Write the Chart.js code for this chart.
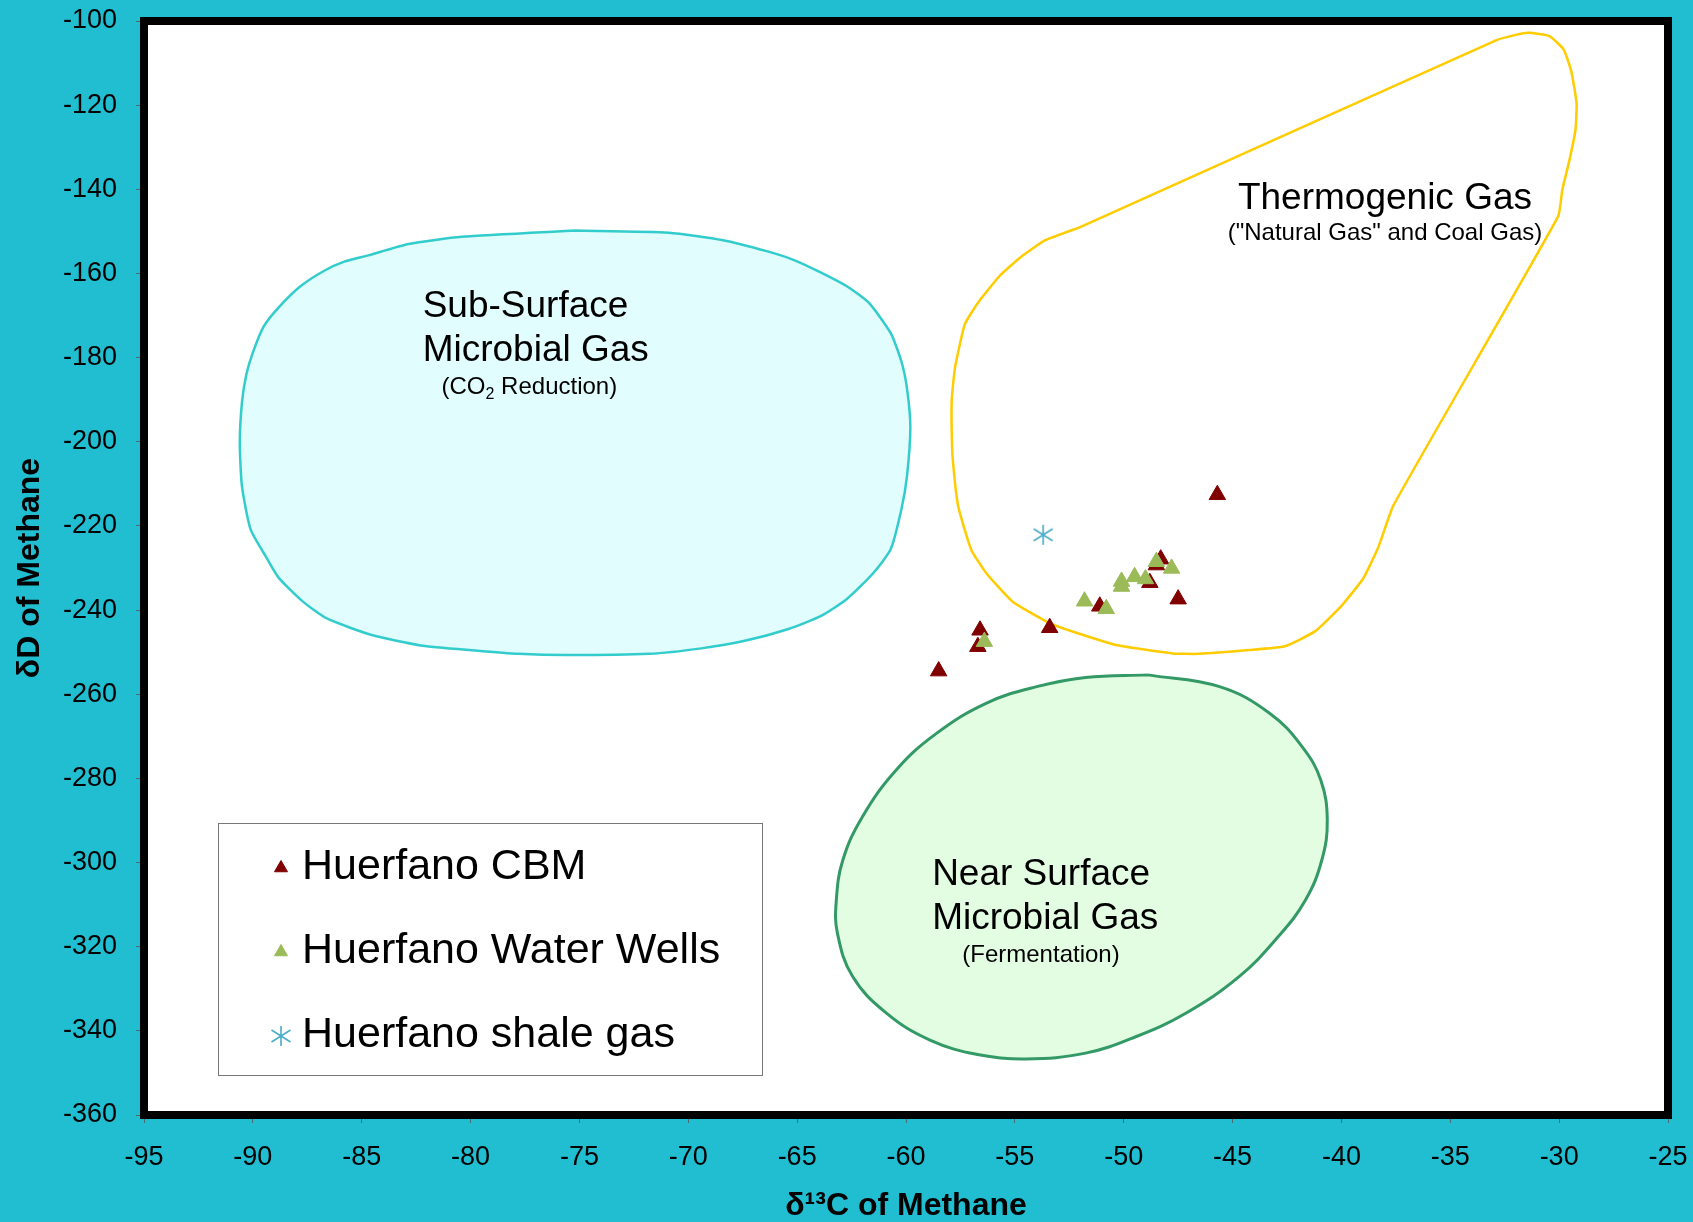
<!DOCTYPE html>
<html>
<head>
<meta charset="utf-8">
<script src="https://cdn.jsdelivr.net/npm/chart.js@4.4.1/dist/chart.umd.min.js"></script>
<style>
html, body { margin: 0; padding: 0; background: #21bdd0; }
canvas { display: block; }
</style>
</head>
<body>
<canvas id="gas-chart" width="1693" height="1222"></canvas>
<script>
// axis ticks
const xTicks = [-95, -90, -85, -80, -75, -70, -65, -60, -55, -50, -45, -40, -35, -30, -25];
const yTicks = [-360, -340, -320, -300, -280, -260, -240, -220, -200, -180, -160, -140, -120, -100];

// samples
const cbmX = [-45.7, -48.3, -48.5, -48.8, -47.5, -51.1, -53.4, -56.6, -56.7, -58.5];
const cbmY = [-212.6, -227.9, -229.3, -233.5, -237.4, -239.1, -244.2, -244.8, -248.7, -254.5];
const waterX = [-56.4, -51.8, -50.8, -50.1, -50.1, -49.5, -49.0, -48.5, -47.8];
const waterY = [-247.5, -237.9, -239.7, -233.2, -234.4, -232.1, -232.6, -228.5, -230.1];
const shaleX = [-53.7];
const shaleY = [-222.1];

// region outlines
const subSurfaceX = [-75.2, -80.4, -82.85, -84.7, -85.8, -86.7, -87.8, -88.8, -89.5, -90.0, -90.3, -90.5, -90.6, -90.5, -90.1, -89.4, -88.8, -87.7, -86.6, -84.5, -82.3, -79.8, -77.8, -75.6, -71.8, -69.4, -67.4, -65.4, -63.9, -62.7, -61.5, -60.7, -60.2, -59.95, -59.8, -59.95, -60.2, -60.7, -61.7, -62.7, -63.9, -65.2, -66.4, -68.4, -70.9, -75.2];
const subSurfaceY = [-149.8, -151.3, -153, -155.7, -157.2, -159.3, -163, -168, -172.6, -178.8, -184, -190.6, -200.4, -210.6, -220.9, -227.3, -232.4, -238, -242, -246, -248.4, -249.6, -250.4, -250.7, -250.4, -249.1, -247.3, -244.5, -241.4, -237.3, -231.2, -225.5, -215.8, -208, -196.5, -187.5, -181.1, -174.2, -167, -163.1, -159.8, -156.7, -154.7, -152.1, -150.3, -149.8];

const thermoX = [-52.0, -32.9, -32.0, -31.4, -30.45, -29.8, -29.45, -29.2, -29.25, -29.55, -29.85, -30.05, -37.6, -38.3, -39.0, -40.0, -41.2, -42.6, -44.25, -46.55, -47.75, -50.35, -52.35, -53.4, -55.1, -56.3, -57.0, -57.6, -57.85, -57.9, -57.9, -57.75, -57.3, -56.7, -55.7, -54.75, -53.6, -52.0];
const thermoY = [-149.0, -104.6, -103.3, -102.8, -103.6, -106.7, -111.8, -119.5, -125.9, -133.6, -140.0, -146.5, -215.0, -225, -232.5, -239, -245, -248.6, -249.5, -250.4, -250.3, -248.3, -245.1, -243.1, -238, -231.3, -225.7, -215.4, -204.3, -197.8, -190.1, -182.4, -172.1, -167.0, -160.6, -156.2, -152.1, -149.0];

const nearSurfaceX = [-48.9, -45.6, -43.3, -41.8, -40.95, -40.65, -40.9, -41.65, -42.9, -44.7, -47.15, -49.45, -51.75, -54.5, -56.65, -58.9, -60.9, -62.45, -63.15, -63.2, -62.9, -62.0, -60.45, -58.6, -56.3, -54.0, -51.75, -48.9];
const nearSurfaceY = [-255.4, -258.2, -264.5, -272.5, -280.4, -289.9, -299.4, -308.9, -317.6, -327.1, -335.8, -341.4, -345.3, -346.7, -345.7, -342.2, -335.8, -327.1, -316.8, -308.9, -299.4, -289.1, -278, -269.3, -262.1, -258.2, -256, -255.4];

const toPoints = (xs, ys) => xs.map((x, i) => ({x: x, y: ys[i]}));

// six armed asterisk for the shale gas sample
const star = document.createElement('canvas');
star.width = 22;
star.height = 22;
(function() {
    const c = star.getContext('2d');
    c.strokeStyle = '#4bacc6';
    c.lineWidth = 1.6;
    c.beginPath();
    c.moveTo(11, 1); c.lineTo(11, 21);
    c.moveTo(1.5, 5); c.lineTo(20.5, 17);
    c.moveTo(1.5, 17); c.lineTo(20.5, 5);
    c.stroke();
})();

const FONT = "'Liberation Sans', Arial, sans-serif";
Chart.defaults.font.family = FONT;

const regionLabels = [
    {x: -82.2, y: -167.4, align: 'left', size: 37, parts: [{t: 'Sub-Surface'}]},
    {x: -82.2, y: -177.9, align: 'left', size: 37, parts: [{t: 'Microbial Gas'}]},
    {x: -77.3, y: -186.6, align: 'center', size: 24, parts: [{t: '(CO'}, {t: '2', sub: true}, {t: ' Reduction)'}]},
    {x: -38.0, y: -141.7, align: 'center', size: 37, parts: [{t: 'Thermogenic Gas'}]},
    {x: -38.0, y: -150.1, align: 'center', size: 24, parts: [{t: '("Natural Gas" and Coal Gas)'}]},
    {x: -58.8, y: -302.5, align: 'left', size: 37, parts: [{t: 'Near Surface'}]},
    {x: -58.8, y: -312.9, align: 'left', size: 37, parts: [{t: 'Microbial Gas'}]},
    {x: -53.8, y: -321.6, align: 'center', size: 24, parts: [{t: '(Fermentation)'}]}
];

function drawParts(ctx, lbl, px, py) {
    const widths = lbl.parts.map(p => {
        ctx.font = (p.sub ? Math.round(lbl.size * 0.66) : lbl.size) + 'px ' + FONT;
        return ctx.measureText(p.t).width;
    });
    const total = widths.reduce((a, b) => a + b, 0);
    let x = lbl.align === 'center' ? px - total / 2 : px;
    py += 2;
    lbl.parts.forEach((p, i) => {
        ctx.font = (p.sub ? Math.round(lbl.size * 0.66) : lbl.size) + 'px ' + FONT;
        ctx.fillText(p.t, x, p.sub ? py + lbl.size * 0.3 : py);
        x += widths[i];
    });
}

const decorations = {
    id: 'decorations',
    beforeDraw(chart) {
        const {ctx, chartArea: a} = chart;
        ctx.save();
        ctx.fillStyle = '#ffffff';
        ctx.fillRect(a.left, a.top, a.right - a.left, a.bottom - a.top);
        ctx.restore();
    },
    afterDatasetsDraw(chart) {
        const {ctx, chartArea: a, scales} = chart;
        ctx.save();

        // heavy frame round the plot
        ctx.strokeStyle = '#000';
        ctx.lineWidth = 8;
        ctx.strokeRect(a.left, a.top, a.right - a.left, a.bottom - a.top);

        // region names
        ctx.fillStyle = '#000';
        ctx.textAlign = 'left';
        ctx.textBaseline = 'middle';
        regionLabels.forEach(lbl => {
            drawParts(ctx, lbl, scales.x.getPixelForValue(lbl.x), scales.y.getPixelForValue(lbl.y));
        });

        // legend box
        ctx.fillStyle = '#fff';
        ctx.fillRect(218.5, 823.5, 544, 252);
        ctx.strokeStyle = '#777';
        ctx.lineWidth = 1;
        ctx.strokeRect(218.5, 823.5, 544, 252);
        chart.data.datasets.slice(0, 3).forEach((ds, i) => {
            const y = 866 + i * 84;
            ctx.fillStyle = ds.backgroundColor;
            ctx.strokeStyle = ds.borderColor;
            ctx.lineWidth = 1;
            Chart.helpers.drawPoint(ctx, {pointStyle: ds.pointStyle, radius: 7.5, rotation: 0, borderWidth: 1}, 281, y + 2);
            ctx.fillStyle = '#000';
            ctx.font = '43px ' + FONT;
            ctx.textBaseline = 'middle';
            ctx.fillText(ds.label, 302, y + 1);
        });
        ctx.restore();
    }
};

new Chart(document.getElementById('gas-chart'), {
    type: 'scatter',
    data: {
        datasets: [
            {
                label: 'Huerfano CBM',
                data: toPoints(cbmX, cbmY),
                pointStyle: 'triangle',
                pointRadius: 9.5,
                backgroundColor: '#800000',
                borderColor: '#800000',
                borderWidth: 1,
                order: 3
            },
            {
                label: 'Huerfano Water Wells',
                data: toPoints(waterX, waterY),
                pointStyle: 'triangle',
                pointRadius: 9.5,
                backgroundColor: '#9bbb59',
                borderColor: '#9bbb59',
                borderWidth: 1,
                order: 2
            },
            {
                label: 'Huerfano shale gas',
                data: toPoints(shaleX, shaleY),
                pointStyle: star,
                backgroundColor: '#4bacc6',
                borderColor: '#4bacc6',
                order: 1
            },
            {
                label: 'Sub-Surface Microbial Gas',
                data: toPoints(subSurfaceX, subSurfaceY),
                showLine: true,
                fill: 'shape',
                tension: 0.2,
                pointRadius: 0,
                borderColor: '#33cccc',
                borderWidth: 2.5,
                backgroundColor: '#e2fdfd',
                order: 10
            },
            {
                label: 'Thermogenic Gas',
                data: toPoints(thermoX, thermoY),
                showLine: true,
                fill: false,
                tension: 0.15,
                pointRadius: 0,
                borderColor: '#ffcc00',
                borderWidth: 2.5,
                order: 10
            },
            {
                label: 'Near Surface Microbial Gas',
                data: toPoints(nearSurfaceX, nearSurfaceY),
                showLine: true,
                fill: 'shape',
                tension: 0.4,
                pointRadius: 0,
                borderColor: '#339966',
                borderWidth: 3,
                backgroundColor: '#e2fde2',
                order: 10
            }
        ]
    },
    options: {
        responsive: false,
        animation: false,
        layout: {
            padding: {top: 21, right: 25, left: 0, bottom: 0}
        },
        plugins: {
            legend: {display: false},
            tooltip: {enabled: false}
        },
        scales: {
            x: {
                type: 'linear',
                min: -95,
                max: -25,
                afterBuildTicks: scale => { scale.ticks = xTicks.map(v => ({value: v})); },
                afterFit: scale => {
                    scale.height = 107;
                    scale.paddingLeft = 0;
                    scale.paddingRight = 0;
                },
                border: {display: false},
                grid: {drawOnChartArea: false, drawTicks: true, tickLength: 8, color: '#4a6a70'},
                ticks: {color: '#000', padding: 18, maxRotation: 0, font: {size: 27}},
                title: {
                    display: true,
                    text: 'δ¹³C of Methane',
                    color: '#000',
                    font: {size: 32, weight: 'bold', lineHeight: 1},
                    padding: {top: 0, bottom: 0}
                }
            },
            y: {
                type: 'linear',
                min: -360,
                max: -100,
                afterBuildTicks: scale => { scale.ticks = yTicks.map(v => ({value: v})); },
                afterFit: scale => {
                    scale.width = 144;
                    scale.paddingTop = 0;
                    scale.paddingBottom = 0;
                },
                border: {display: false},
                grid: {drawOnChartArea: false, drawTicks: true, tickLength: 8, color: '#4a6a70'},
                ticks: {color: '#000', padding: 19, font: {size: 27}},
                title: {
                    display: true,
                    text: 'δD of Methane',
                    color: '#000',
                    font: {size: 32, weight: 'bold', lineHeight: 1},
                    padding: {top: 14, bottom: 0}
                }
            }
        }
    },
    plugins: [decorations]
});
</script>
</body>
</html>
